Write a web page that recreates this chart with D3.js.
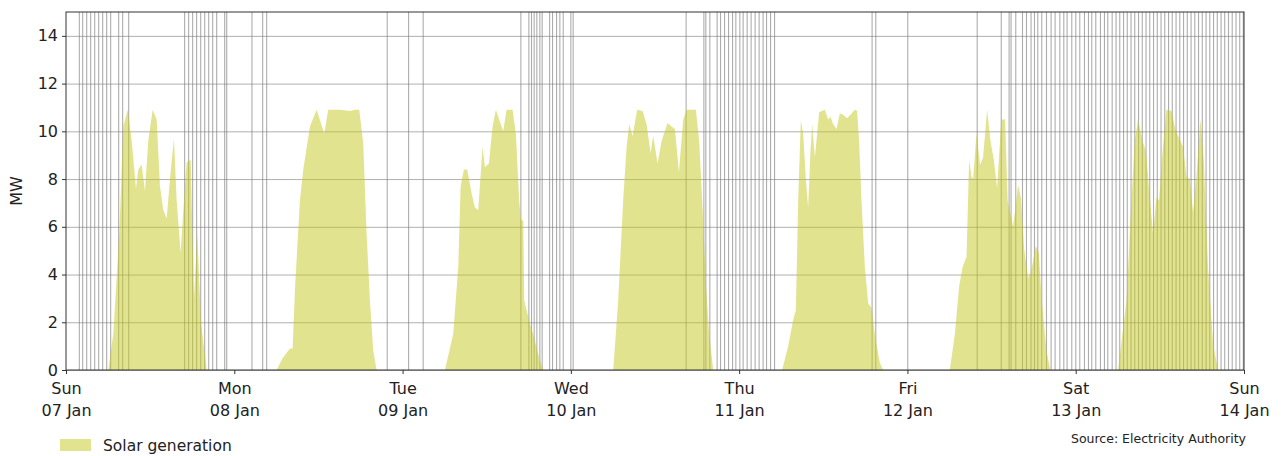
<!DOCTYPE html>
<html>
<head>
<meta charset="utf-8">
<script src="https://cdn.jsdelivr.net/npm/d3@7"></script>
<style>
  html, body { margin: 0; padding: 0; background: #fff; }
  svg { display: block; font-family: "DejaVu Sans", sans-serif; }
</style>
</head>
<body>
<svg id="chart" width="1288" height="456"></svg>
<script>
// Week shown on the chart (UTC dates, Sunday to Sunday)
const weekStart = Date.UTC(2024, 0, 7);
const weekEnd = Date.UTC(2024, 0, 14);

// Solar generation: hours since Sun 07 Jan 00:00, and output in MW
const genHours = [
  0, 6.03, 6.74, 7.60, 8.17, 8.80, 9.37, 9.98, 10.31, 10.79, 11.26, 11.73, 12.36, 12.93, 13.40, 13.87,
  14.36, 14.83, 15.40, 15.78, 16.35, 16.82, 17.21, 17.78, 18.25, 18.72, 19.25, 20.06,
  30.04, 30.90, 31.94, 32.32, 32.65, 33.36, 33.84, 34.79, 35.75, 36.83, 37.40, 39.07, 40.49, 41.21,
  41.82, 42.39, 42.87, 43.35, 43.82, 44.30,
  54.04, 55.22, 55.94, 56.28, 56.75, 57.22, 57.85, 58.32, 58.79, 59.41, 59.74, 60.31, 60.84, 61.31,
  61.78, 62.35, 62.84, 63.69, 64.16, 64.63, 64.88, 65.21, 65.35, 66.16, 66.63, 67.59, 68.06,
  78.04, 78.75, 79.46, 79.95, 80.32, 80.80, 81.46, 82.23, 82.80, 83.37, 83.74, 84.37, 84.94, 85.79,
  86.36, 86.84, 87.41, 88.02, 88.50, 89.83, 90.30, 90.78, 91.25, 91.73, 92.30,
  102.13, 102.99, 103.70, 104.09, 104.42, 104.80, 105.13, 105.51, 105.84, 106.18, 106.41, 106.80,
  107.41, 108.22, 108.69, 109.04, 109.41, 109.89, 110.36, 110.83, 111.40, 112.03, 112.50, 112.83,
  113.11, 113.45, 113.93, 114.40, 114.88, 115.35, 116.06, 116.54,
  126.05, 126.76, 127.37, 127.86, 128.43, 128.80, 129.14, 129.37, 129.85, 130.36, 130.79, 131.36,
  131.85, 132.32, 132.79, 133.39, 133.93, 134.29, 135.07, 135.78, 136.20, 136.63, 137.21, 137.62,
  138.31, 138.73, 139.16, 139.83, 140.38,
  150.04, 151.24, 151.95, 152.42, 152.89, 153.52, 153.99, 154.46, 155.03, 155.52, 155.89, 156.37,
  156.94, 157.65, 158.13, 158.60, 159.31, 159.80, 160.27, 160.74, 161.22, 161.79, 162.26, 162.87,
  163.59, 164.30, 168
];
const genMW = [
  0, 0, 1.5, 5.7, 10.2, 10.9, 9.6, 7.6, 8.4, 8.6, 7.5, 9.6, 10.9, 10.5, 7.7, 6.7,
  6.35, 8.0, 9.7, 7.1, 4.9, 7.1, 8.7, 8.8, 3.0, 5.7, 2.0, 0,
  0, 0.5, 0.9, 0.9, 3.35, 7.1, 8.4, 10.2, 10.9, 9.9, 10.9, 10.9, 10.85, 10.9,
  10.9, 9.5, 5.7, 2.9, 0.8, 0,
  0, 1.5, 4.3, 7.7, 8.4, 8.4, 7.4, 6.8, 6.7, 9.35, 8.5, 8.65, 10.2, 10.9,
  10.5, 10.0, 10.9, 10.9, 9.9, 7.1, 6.3, 6.25, 2.9, 1.95, 1.5, 0.4, 0,
  0, 2.9, 7.1, 9.35, 10.3, 9.8, 10.9, 10.85, 10.3, 9.1, 9.8, 8.65, 9.6, 10.35,
  10.2, 10.1, 8.3, 10.5, 10.9, 10.9, 9.6, 6.8, 3.6, 1.5, 0,
  0, 1.0, 2.1, 2.5, 7.1, 10.45, 9.9, 8.0, 6.8, 9.2, 10.3, 8.9,
  10.8, 10.9, 10.5, 10.6, 10.3, 10.1, 10.75, 10.7, 10.55, 10.75, 10.9, 10.85,
  9.6, 7.1, 4.3, 2.8, 2.6, 1.5, 0.3, 0,
  0, 1.5, 3.5, 4.3, 4.75, 8.8, 8.1, 8.0, 9.9, 8.6, 8.9, 10.9,
  9.6, 8.8, 7.6, 10.5, 10.5, 7.1, 6.0, 7.75, 7.2, 5.1, 3.85, 4.1,
  5.2, 4.9, 2.9, 0.8, 0,
  0, 2.9, 7.1, 9.6, 10.5, 9.6, 9.2, 7.6, 5.7, 7.25, 7.1, 9.1,
  10.9, 10.85, 10.2, 9.8, 9.35, 8.1, 8.0, 6.6, 8.1, 10.5, 8.8, 4.3,
  1.1, 0, 0
];

// Flagged trading periods, hours since Sun 07 Jan 00:00
const flaggedHours = [
  1.90, 2.38, 2.95, 3.52, 4.09, 4.66, 5.23, 5.80, 6.37, 7.51, 8.08, 8.94,
  16.92, 17.49, 18.06, 18.63, 19.21, 19.78, 20.35, 20.92, 21.49, 22.63, 22.92,
  26.52, 28.05, 28.62, 45.81,
  48.86, 50.94, 64.87, 66.01, 66.39, 66.77, 67.15, 67.58, 67.91, 68.97, 69.39, 69.96, 70.43, 70.91, 72.0, 72.33,
  88.44, 90.97, 91.25, 91.82, 92.86, 93.35, 93.92, 94.49, 95.06, 95.53, 96.10, 96.57, 97.14, 97.71,
  98.28, 98.85, 99.42, 99.91, 100.48, 101.05,
  114.96, 115.49, 120.05,
  129.95, 133.38, 134.50, 134.78, 135.45, 136.41, 136.98, 137.63, 138.12, 138.59, 139.16, 139.83,
  140.49, 141.06, 141.73, 142.30, 142.77, 143.44, 144.01, 144.58, 145.25, 145.82, 146.29, 146.86,
  147.53, 148.10, 148.57, 149.20, 149.75, 150.28, 150.82, 151.35, 151.89, 152.42, 152.96, 153.49,
  154.03, 154.56, 155.10, 155.63, 156.17, 156.70, 157.24, 157.77, 158.31, 158.84, 159.38, 159.91,
  160.45, 160.98, 161.52, 162.05, 162.59, 163.12, 163.66, 164.19, 164.73, 165.25, 165.79, 166.32,
  166.86, 167.39, 167.90
];

const yTicks = [0, 2, 4, 6, 8, 10, 12, 14];
const yLabel = "MW";
const seriesName = "Solar generation";
const sourceNote = "Source: Electricity Authority";

const toDate = h => new Date(weekStart + h * 3600e3);

const svg = d3.select("#chart");
const plot = { left: 66, right: 1244, top: 12, bottom: 370 };

const x = d3.scaleUtc().domain([new Date(weekStart), new Date(weekEnd)]).range([plot.left, plot.right]);
const y = d3.scaleLinear().domain([0, 15]).range([plot.bottom, plot.top]);

const fillColour = "#c6c71e";

// horizontal grid
svg.append("g")
  .selectAll("line").data(yTicks).join("line")
  .attr("x1", plot.left).attr("x2", plot.right)
  .attr("y1", d => y(d) + 0.5).attr("y2", d => y(d) + 0.5)
  .attr("stroke", "#b0b0b0").attr("stroke-width", 1);

// vertical lines for flagged periods
svg.append("g")
  .selectAll("line").data(flaggedHours).join("line")
  .attr("x1", d => x(toDate(d))).attr("x2", d => x(toDate(d)))
  .attr("y1", plot.top).attr("y2", plot.bottom)
  .attr("stroke", "#777").attr("stroke-opacity", 0.6).attr("stroke-width", 1.1);

// generation area
const genData = genHours.map((h, i) => ({ t: toDate(h), v: genMW[i] }));
const area = d3.area()
  .x(d => x(d.t))
  .y0(y(0))
  .y1(d => y(d.v));
svg.append("path")
  .datum(genData)
  .attr("d", area)
  .attr("fill", fillColour)
  .attr("fill-opacity", 0.5);

// frame
svg.append("rect")
  .attr("x", plot.left).attr("y", plot.top)
  .attr("width", plot.right - plot.left).attr("height", plot.bottom - plot.top)
  .attr("fill", "none").attr("stroke", "#333").attr("stroke-width", 1);

// y axis
const yAxis = svg.append("g")
  .attr("transform", `translate(${plot.left},0)`)
  .call(d3.axisLeft(y).tickValues(yTicks).tickSize(4).tickPadding(4));
yAxis.select(".domain").remove();
yAxis.selectAll(".tick line").attr("stroke", "#333");
yAxis.selectAll("text").attr("font-size", 16).attr("fill", "#222")
  .attr("font-family", "DejaVu Sans");

// x axis with two-line day labels
const days = d3.utcDay.range(new Date(weekStart), new Date(weekEnd + 1));
const xAxis = svg.append("g")
  .attr("transform", `translate(0,${plot.bottom})`)
  .call(d3.axisBottom(x).tickValues(days).tickSize(4).tickFormat(""));
xAxis.select(".domain").remove();
xAxis.selectAll(".tick line").attr("stroke", "#333");
const fmtDay = d3.utcFormat("%a");
const fmtDate = d3.utcFormat("%d %b");
xAxis.selectAll(".tick").each(function(d) {
  const t = d3.select(this).append("text")
    .attr("fill", "#222").attr("font-size", 16)
    .attr("font-family", "DejaVu Sans")
    .attr("text-anchor", "middle");
  t.append("tspan").attr("x", 0).attr("y", 24).text(fmtDay(d));
  t.append("tspan").attr("x", 0).attr("y", 46).text(fmtDate(d));
});

// y label
svg.append("text")
  .attr("transform", `translate(22,${(plot.top + plot.bottom) / 2}) rotate(-90)`)
  .attr("text-anchor", "middle")
  .attr("font-size", 16).attr("fill", "#222")
  .text(yLabel);

// legend
const legend = svg.append("g").attr("transform", "translate(60,439)");
legend.append("rect")
  .attr("width", 31).attr("height", 12)
  .attr("fill", fillColour).attr("fill-opacity", 0.5);
legend.append("text")
  .attr("x", 43).attr("y", 12)
  .attr("font-size", 15.5).attr("fill", "#222")
  .text(seriesName);

// source note
svg.append("text")
  .attr("x", 1246).attr("y", 443)
  .attr("text-anchor", "end")
  .attr("font-size", 12.5).attr("fill", "#222")
  .text(sourceNote);
</script>
</body>
</html>
